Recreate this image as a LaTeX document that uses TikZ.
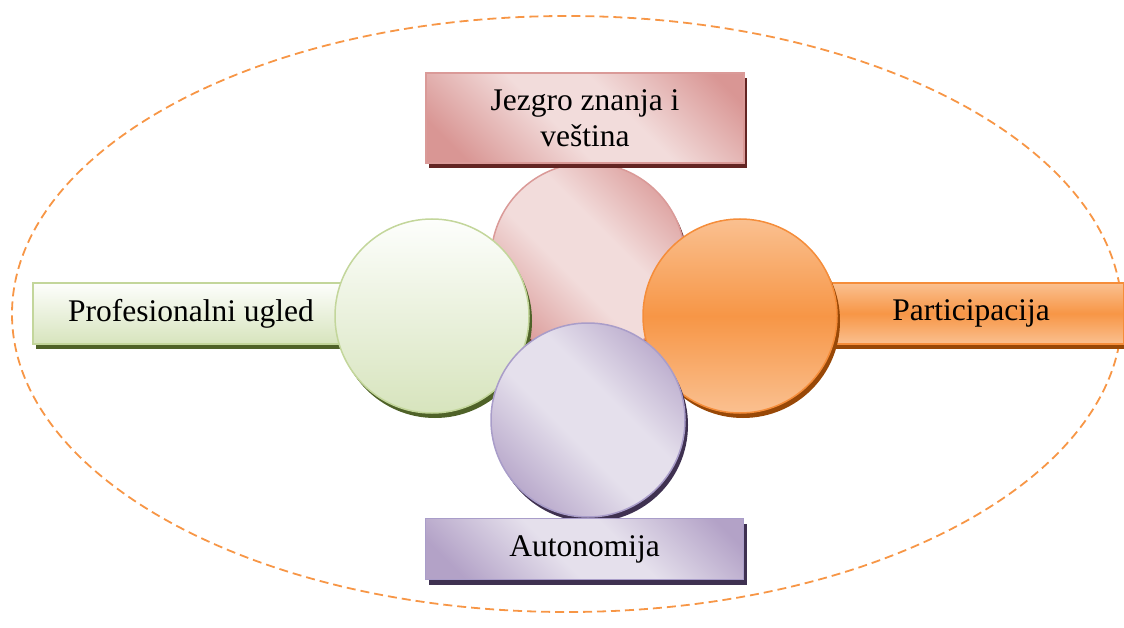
\documentclass[tikz,border=0pt]{standalone}
\usepackage{fontspec}
\setmainfont{Liberation Serif}
\usetikzlibrary{shadows,shapes.geometric}

% palette
\definecolor{pkL}{HTML}{F2DCDB}
\definecolor{pkD}{HTML}{D99694}
\definecolor{pkB}{HTML}{DA9A98}
\definecolor{pkS}{HTML}{632523}
\definecolor{gnL}{HTML}{FDFEFC}
\definecolor{gnD}{HTML}{D7E4BD}
\definecolor{gnB}{HTML}{C3D69B}
\definecolor{gnS}{HTML}{4F6228}
\definecolor{orL}{HTML}{FAC090}
\definecolor{orM}{HTML}{F79646}
\definecolor{orB}{HTML}{F58D3A}
\definecolor{orS}{HTML}{984807}
\definecolor{puL}{HTML}{E5E0EC}
\definecolor{puD}{HTML}{B3A2C7}
\definecolor{puB}{HTML}{A99DC9}
\definecolor{puS}{HTML}{3F3151}
\definecolor{frameC}{HTML}{F79646}

% diagonal bands: dark - light - dark
\pgfdeclarehorizontalshading{pinkband}{100bp}{color(0bp)=(pkD); color(22bp)=(pkD); color(44bp)=(pkL); color(58bp)=(pkL); color(80bp)=(pkD); color(100bp)=(pkD)}
\pgfdeclarehorizontalshading{purpleband}{100bp}{color(0bp)=(puD); color(22bp)=(puD); color(44bp)=(puL); color(58bp)=(puL); color(80bp)=(puD); color(100bp)=(puD)}

\tikzset{
  lbl/.style={font=\fontsize{31.5}{36}\selectfont, align=center, text=black},
  barbox/.style={rectangle, line width=1.2pt, inner sep=0pt},
  ball/.style={circle, minimum size=194pt, inner sep=0pt, line width=1.5pt},
  pinkset/.style={shade, shading=pinkband, shading angle=45, draw=pkB,
    general shadow={fill=pkS, shadow xshift=3pt, shadow yshift=-5pt}},
  greenset/.style={top color=gnL, bottom color=gnD, draw=gnB,
    general shadow={fill=gnS, shadow xshift=3pt, shadow yshift=-5pt}},
  orangeset/.style={top color=orL, bottom color=orL, middle color=orM, draw=orB,
    general shadow={fill=orS, shadow xshift=3pt, shadow yshift=-5pt}},
  purpleset/.style={shade, shading=purpleband, shading angle=45, draw=puB,
    general shadow={fill=puS, shadow xshift=3pt, shadow yshift=-5pt}},
  outerframe/.style={ellipse, draw=frameC, line width=1.8pt,
    dash pattern=on 9pt off 5pt, minimum width=1110pt, minimum height=596pt, inner sep=0pt}
}

\begin{document}
\begin{tikzpicture}[x=1pt, y=-1pt]
  \useasboundingbox (0,0) rectangle (1124,628);

  % dashed outer boundary
  \node[outerframe] (frame) at (567,314) {};

  % core: knowledge and skills
  \node[ball, pinkset] (pinkball) at (588,260) {};
  \node[barbox, pinkset, lbl, minimum width=318pt, minimum height=90pt] (topbar) at (585,118) {Jezgro znanja i\\veština};

  % side bars
  \node[barbox, greenset, lbl, minimum width=316pt, minimum height=61pt] (leftbar) at (191,313.5) {Profesionalni ugled};
  \node[barbox, orangeset, lbl, minimum width=306pt, minimum height=61pt] (rightbar) at (971,313.5) {Participacija};

  % side circles
  \node[ball, greenset] (greenball) at (432,316) {};
  \node[ball, orangeset] (orangeball) at (740,316) {};

  % bottom: autonomy
  \node[ball, purpleset] (purpleball) at (588,420) {};
  \node[barbox, purpleset, lbl, minimum width=318pt, minimum height=61pt] (bottombar) at (584.5,549) {Autonomija};
\end{tikzpicture}
\end{document}
